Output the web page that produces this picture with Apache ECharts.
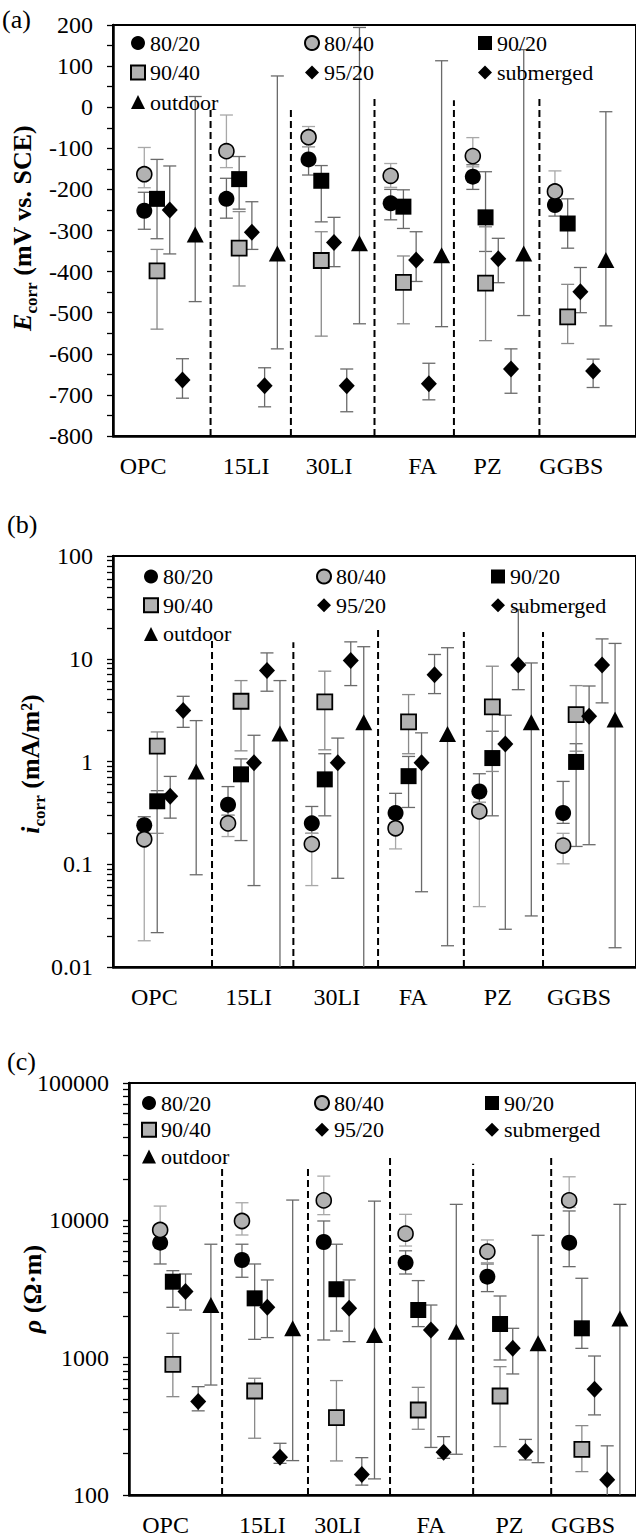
<!DOCTYPE html>
<html><head><meta charset="utf-8">
<script src="https://cdn.jsdelivr.net/npm/echarts@6/dist/echarts.min.js"></script>
<style>html,body{margin:0;padding:0;background:#fff}#c{width:636px;height:1539px}</style>
</head><body><div id="c"></div>
<script>
// ---------- categories ----------
const groups = ['OPC', '15LI', '30LI', 'FA', 'PZ', 'GGBS'];
const conditions = ['80/20', '80/40', '90/20', '90/40', '95/20', 'submerged', 'outdoor'];

// ---------- panel (a): Ecorr, mV vs. SCE  — rows per group: [mean, lower, upper] ----------
const a_80_20 = [[-252,-297,-207],[-223,-270,-173],[-127,-165,-96],[-234,-274,-200],[-169,-200,-140],[-238,-265,-210]];
const a_80_40 = [[-163,-196,-98],[-107,-147,-19],[-73,-96,-47],[-167,-195,-137],[-119,-145,-74],[-205,-225,-155]];
const a_90_20 = [[-223,-320,-127],[-175,-248,-120],[-179,-279,-142],[-242,-295,-201],[-268,-351,-157],[-283,-343,-223]];
const a_90_40 = [[-398,-540,-346],[-343,-435,-254],[-373,-557,-303],[-426,-527,-362],[-428,-568,-291],[-510,-575,-431]];
const a_95_20 = [[-250,-357,-143],[-304,-346,-230],[-329,-388,-268],[-372,-424,-303],[-369,-427,-319],[-449,-500,-390]];
const a_sub   = [[-664,-708,-612],[-678,-729,-634],[-678,-741,-637],[-673,-712,-623],[-637,-696,-588],[-642,-682,-613]];
const a_out   = [[-310,-473,26],[-356,-588,76],[-331,-527,194],[-360,-534,113],[-356,-507,140],[-372,-532,-11]];

// ---------- panel (b): icorr, mA/m2 ----------
const b_80_20 = [[0.24,0.2,0.29],[0.38,0.3,0.57],[0.25,0.2,0.365],[0.315,0.25,0.49],[0.51,0.4,0.76],[0.315,0.25,0.64]];
const b_80_40 = [[0.175,0.018,0.22],[0.25,0.186,0.3],[0.157,0.062,0.2],[0.224,0.141,0.28],[0.327,0.0387,0.4],[0.152,0.101,0.2]];
const b_90_20 = [[0.41,0.0216,0.52],[0.75,0.17,1.06],[0.67,0.296,1.19],[0.72,0.357,1.12],[1.08,0.296,1.97],[0.99,0.149,1.49]];
const b_90_40 = [[1.41,0.2,1.94],[3.86,1.27,6.13],[3.8,1.3,7.57],[2.43,1.19,4.48],[3.4,0.8,8.46],[2.86,1.26,5.48]];
const b_95_20 = [[0.46,0.281,0.716],[0.97,0.062,1.8],[0.97,0.073,1.69],[0.97,0.054,1.9],[1.48,0.0233,2.82],[2.75,0.155,5.43]];
const b_sub   = [[3.13,2.15,4.31],[7.7,4.83,11.4],[9.6,5.48,14.6],[7.0,4.58,11.0],[8.7,5.0,30],[8.7,3.72,15.6]];
const b_out   = [[0.8,0.079,2.5],[1.87,0.006,6.13],[2.41,0.006,13.1],[1.85,0.0161,12.8],[2.41,0.0314,9.1],[2.56,0.0154,14.1]];

// ---------- panel (c): resistivity, Ohm·m ----------
const c_80_20 = [[6880,4810,8000],[5140,3850,6700],[6960,1345,9890],[4920,4066,6000],[3890,3027,4810],[6880,4600,11700]];
const c_80_40 = [[8510,7000,12700],[9890,7820,13430],[13970,11000,20990],[8000,6500,11060],[5920,4920,7200],[13970,12400,20750]];
const c_90_20 = [[3573,2327,4300],[2704,1360,4810],[3150,1563,6700],[2223,1683,3640],[1758,962,2812],[1636,1169,3785]];
const c_90_40 = [[894,520,1504],[572,259,708],[366,177,681],[416,301,608],[526,225,860],[215,148,320]];
const c_95_20 = [[3027,2223,4066],[2327,1400,3680],[2287,1308,3680],[1589,222,2417],[1169,761,1636],[588,383,1028]];
const c_sub   = [[479,410,615],[188,170,238],[141,118,187],[205,185,266],[207,180,254],[129,95,228]];
const c_out   = [[2417,632,6700],[1636,178,14050],[1462,131,13800],[1546,198,13070],[1271,172,7780],[1932,80,13070]];

// ---------- tick labels ----------
const yLabelsB = [0.01, 0.1, 1, 10, 100];
const yLabelsC = [100, 1000, 10000, 100000];

// ---------- separators (x position in group units, top value) and category label positions ----------
const sepA = [0.807, 1.785, 2.803, 3.770, 4.811], sepTopA = [0, 0, 20, 17, 22];
const sepB = [0.809, 1.780, 2.791, 3.815, 4.760], sepTopB = [15.2, 14.5, 20.3, 18.2, 18.2];
const sepC = [0.757, 1.807, 2.810, 3.826, 4.780], sepTopC = [24150, 24150, 29300, 25800, 29300];
const catPosA = [-0.015, 1.24, 2.25, 3.39, 4.18, 5.2];
const catPosB = [0.12, 1.245, 2.30, 3.21, 4.22, 5.19];
const catPosC = [0.066, 1.25, 2.17, 3.31, 4.27, 5.17];

// ---------- layout / style (not data) ----------
const FONT = 'Liberation Serif';
const slotOf = [0, 0, 1, 1, 2, 3, 4];
const SLOT = 0.155;
const GRAY = '#b2b2b2';
const condStyle = [
  {symbol:'circle',   size:16,      itemStyle:{color:'#000', opacity:1}, bar:'#6a6a6a'},
  {symbol:'circle',   size:15,      itemStyle:{color:GRAY, borderColor:'#000', borderWidth:1.6, opacity:1}, bar:'#a8a8a8'},
  {symbol:'rect',     size:16,      itemStyle:{color:'#000', opacity:1}, bar:'#6a6a6a'},
  {symbol:'rect',     size:15,      itemStyle:{color:GRAY, borderColor:'#000', borderWidth:1.8, opacity:1}, bar:'#8a8a8a'},
  {symbol:'diamond',  size:[16,17], itemStyle:{color:'#000', opacity:1}, bar:'#6a6a6a'},
  {symbol:'diamond',  size:[16,17], itemStyle:{color:'#000', opacity:1}, bar:'#6a6a6a'},
  {symbol:'triangle', size:[17,16], itemStyle:{color:'#000', opacity:1}, bar:'#6a6a6a'}
];

const panels = [
  {data:[a_80_20,a_80_40,a_90_20,a_90_40,a_95_20,a_sub,a_out], grid:{left:113,top:25,width:540,height:411},
   xMin:-0.381, pxu:84.8, yType:'value', yMin:-800, yMax:200, sep:sepA, sepTop:sepTopA, cat:catPosA,
   legTop:31, legGap:5.5, legLeft:[130,304,478]},
  {data:[b_80_20,b_80_40,b_90_20,b_90_40,b_95_20,b_sub,b_out], grid:{left:113,top:556,width:540,height:411},
   xMin:-0.373, pxu:86.5, yType:'log', yMin:0.01, yMax:100, labels:yLabelsB, sep:sepB, sepTop:sepTopB, cat:catPosB,
   legTop:564.5, legGap:4.7, legLeft:[143,316,491]},
  {data:[c_80_20,c_80_40,c_90_20,c_90_40,c_95_20,c_sub,c_out], grid:{left:129,top:1083,width:520,height:412},
   xMin:-0.381, pxu:83.9, yType:'log', yMin:100, yMax:100000, labels:yLabelsC, sep:sepC, sepTop:sepTopC, cat:catPosC,
   legTop:1091, legGap:2.7, legLeft:[141,314,485]}
];

function logTicks(lo, hi) {
  const t = [];
  for (let d = lo; d < hi * 0.999; d *= 10) for (let k = 1; k <= 9; k++) t.push(+(d * k).toPrecision(6));
  t.push(hi);
  return t;
}
const fmtNum = v => String(+(+v).toPrecision(6));

function errRender(color) {
  return function (params, api) {
    const x = api.value(0), lo = api.value(1), hi = api.value(2);
    const a = api.coord([x, lo]), b = api.coord([x, hi]);
    const cs = params.coordSys, top = cs.y, bot = cs.y + cs.height;
    const st = {stroke: color, lineWidth: 1.3};
    const ch = [{type:'line', shape:{x1:a[0], y1:Math.min(a[1], bot), x2:a[0], y2:Math.max(b[1], top)}, style:st}];
    if (a[1] <= bot + 0.5) ch.push({type:'line', shape:{x1:a[0]-6.5, y1:a[1], x2:a[0]+6.5, y2:a[1]}, style:st});
    if (b[1] >= top - 0.5) ch.push({type:'line', shape:{x1:b[0]-6.5, y1:b[1], x2:b[0]+6.5, y2:b[1]}, style:st});
    return {type:'group', children: ch};
  };
}
function sepRender(yMin) {
  return function (params, api) {
    const p0 = api.coord([api.value(0), yMin]), p1 = api.coord([api.value(0), api.value(1)]);
    return {type:'line', shape:{x1:p0[0], y1:p0[1], x2:p1[0], y2:p1[1]},
            style:{stroke:'#000', lineWidth:2, lineDash:[7,4]}};
  };
}

const grids = [], xAxes = [], yAxes = [], series = [], legends = [];
panels.forEach((p, i) => {
  grids.push(Object.assign({show:true, borderColor:'#000', borderWidth:2, backgroundColor:'transparent'}, p.grid));
  xAxes.push({
    type:'value', gridIndex:i, min:p.xMin, max:p.xMin + p.grid.width / p.pxu,
    axisLine:{show:true, onZero:false, lineStyle:{color:'#000', width:2.5}},
    axisTick:{show:false}, splitLine:{show:false},
    axisLabel:{show:true, customValues:p.cat, margin:18, color:'#000', fontFamily:FONT, fontSize:24,
      formatter: v => { const k = p.cat.findIndex(c => Math.abs(c - v) < 1e-6); return k >= 0 ? groups[k] : ''; }}
  });
  const yBase = {gridIndex:i, min:p.yMin, max:p.yMax,
    axisLine:{show:true, onZero:false, lineStyle:{color:'#000', width:2.5}},
    splitLine:{show:false}};
  if (p.yType === 'value') {
    yAxes.push(Object.assign(yBase, {type:'value', interval:100,
      axisTick:{show:true, inside:false, length:6, lineStyle:{color:'#000', width:1.3}},
      minorTick:{show:true, splitNumber:2, length:6, lineStyle:{color:'#000', width:1.3}},
      axisLabel:{color:'#000', fontFamily:FONT, fontSize:24, margin:20}}));
  } else {
    yAxes.push(Object.assign(yBase, {type:'log', logBase:10,
      axisTick:{show:true, inside:false, length:6, customValues:logTicks(p.yMin, p.yMax), lineStyle:{color:'#000', width:1.3}},
      axisLabel:{customValues:p.labels, formatter:fmtNum, color:'#000', fontFamily:FONT, fontSize:24, margin:20}}));
  }
  // separators
  series.push({type:'custom', xAxisIndex:i, yAxisIndex:i, silent:true, z:2, clip:false,
    data:p.sep.map((x, k) => [x, p.sepTop[k]]), renderItem:sepRender(p.yMin)});
  // error bars then markers
  p.data.forEach((rows, c) => {
    const s = condStyle[c];
    series.push({type:'custom', xAxisIndex:i, yAxisIndex:i, silent:true, z:3, clip:true,
      data:rows.map((r, g) => [g + slotOf[c] * SLOT, r[1], r[2]]), renderItem:errRender(s.bar)});
  });
  p.data.forEach((rows, c) => {
    const s = condStyle[c];
    series.push({type:'scatter', name:conditions[c], xAxisIndex:i, yAxisIndex:i, silent:true, z:5,
      symbol:s.symbol, symbolSize:s.size, itemStyle:s.itemStyle,
      data:rows.map((r, g) => [g + slotOf[c] * SLOT, r[0]])});
  });
  const cols = [['80/20','90/40','outdoor'], ['80/40','95/20'], ['90/20','submerged']];
  cols.forEach((names, k) => legends.push({
    orient:'vertical', left:p.legLeft[k], top:p.legTop, padding:0, itemGap:p.legGap,
    itemWidth:14, itemHeight:14, selectedMode:false, data:names,
    itemStyle:{opacity:1},
    textStyle:{color:'#000', fontFamily:FONT, fontSize:22, lineHeight:24}
  }));
});

const titleRich = {
  e:{fontFamily:FONT, fontSize:26, fontWeight:'bold', fontStyle:'italic', lineHeight:36, verticalAlign:'middle', fill:'#000'},
  s:{fontFamily:FONT, fontSize:17, fontWeight:'bold', lineHeight:17, verticalAlign:'bottom', fill:'#000'},
  t:{fontFamily:FONT, fontSize:26, fontWeight:'bold', lineHeight:36, verticalAlign:'middle', fill:'#000'}
};
function yTitle(text, x, y) {
  return {type:'text', x:x, y:y, rotation:Math.PI / 2, silent:true,
    style:{text:text, rich:titleRich, align:'center', verticalAlign:'middle', fill:'#000'}};
}
function tag(text, x, y) {
  return {type:'text', x:x, y:y, silent:true,
    style:{text:text, fontFamily:FONT, fontSize:26, fill:'#000', align:'left', verticalAlign:'middle'}};
}

const chart = echarts.init(document.getElementById('c'), null, {renderer:'svg'});
chart.setOption({
  animation:false, backgroundColor:'#fff',
  grid:grids, xAxis:xAxes, yAxis:yAxes, legend:legends, series:series,
  graphic:[
    tag('(a)', 2, 19), tag('(b)', 7, 524), tag('(c)', 7, 1061),
    yTitle('{e|E}{s|corr}{t| (mV vs. SCE)}', 22, 228),
    yTitle('{e|i}{s|corr}{t| (mA/m²)}', 30, 764),
    yTitle('{e|ρ}{t| (Ω·m)}', 32, 1289)
  ]
});
</script></body></html>
